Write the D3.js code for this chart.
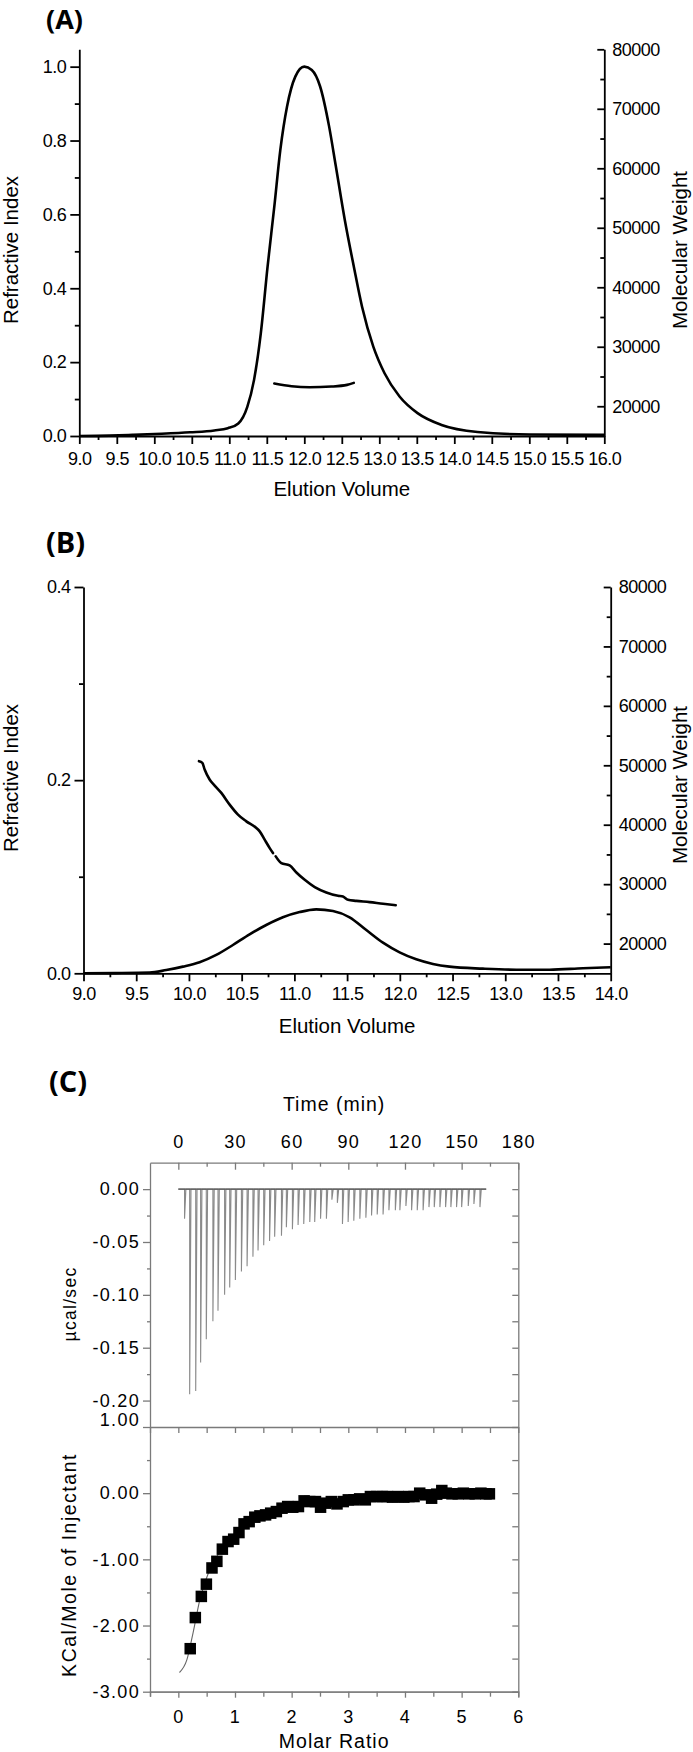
<!DOCTYPE html>
<html><head><meta charset="utf-8">
<script src="https://cdn.jsdelivr.net/npm/d3@7"></script>
<style>
body{margin:0;background:#fff}
svg{display:block;background:#fff}
</style></head><body>
<svg id="c" width="693" height="1752"></svg>
<script>
// ---------- Panel A ----------
const aVolume = [9.0, 9.4, 9.71, 10.1, 10.48, 10.8, 10.98, 11.12, 11.24, 11.33, 11.42, 11.51, 11.60, 11.68, 11.77, 11.88, 12.0, 12.1, 12.21, 12.33, 12.42, 12.54, 12.66, 12.77, 12.92, 13.07, 13.27, 13.51, 13.83, 14.31, 15.01, 16.0];
const aRI     = [0.0, 0.001, 0.003, 0.006, 0.010, 0.015, 0.021, 0.034, 0.079, 0.152, 0.278, 0.458, 0.621, 0.774, 0.892, 0.973, 1.0, 0.991, 0.947, 0.839, 0.731, 0.585, 0.459, 0.350, 0.242, 0.170, 0.107, 0.062, 0.030, 0.011, 0.004, 0.003];
const aMWVolume = [11.6, 11.83, 12.07, 12.36, 12.57, 12.66];
const aMW       = [23810, 23360, 23190, 23310, 23590, 23930];
const aXTicks = [9.0, 9.5, 10.0, 10.5, 11.0, 11.5, 12.0, 12.5, 13.0, 13.5, 14.0, 14.5, 15.0, 15.5, 16.0];
const aXMinor = [9.25, 9.75, 10.25, 10.75, 11.25, 11.75, 12.25, 12.75, 13.25, 13.75, 14.25, 14.75, 15.25, 15.75];
const aYTicks = [0.0, 0.2, 0.4, 0.6, 0.8, 1.0];
const aYMinor = [0.1, 0.3, 0.5, 0.7, 0.9];
const mwTicks = [20000, 30000, 40000, 50000, 60000, 70000, 80000];
const mwMinor = [25000, 35000, 45000, 55000, 65000, 75000];

// ---------- Panel B ----------
const bVolume = [9.0, 9.3, 9.627, 9.785, 9.943, 10.101, 10.259, 10.417, 10.575, 10.733, 10.891, 11.05, 11.208, 11.366, 11.524, 11.682, 11.84, 11.998, 12.156, 12.314, 12.471, 12.788, 13.104, 13.42, 13.736, 14.0];
const bRI     = [0.0, 0.0002, 0.0007, 0.0034, 0.0069, 0.0114, 0.019, 0.0293, 0.0403, 0.050, 0.058, 0.0634, 0.0662, 0.0645, 0.058, 0.0448, 0.0317, 0.0217, 0.0145, 0.0097, 0.0069, 0.0048, 0.0037, 0.0037, 0.0052, 0.0062];
const bMWVolume = [10.095, 10.127, 10.149, 10.196, 10.244, 10.307, 10.386, 10.465, 10.544, 10.639, 10.671, 10.718, 10.766, 10.797, 10.81, 10.823, 10.876, 10.955, 11.019, 11.098, 11.193, 11.303, 11.414, 11.461, 11.509, 11.588, 11.714, 11.841, 11.961];
const bMW       = [50690, 50410, 49280, 47600, 46590, 45350, 43380, 41700, 40570, 39450, 38880, 37480, 36070, 35230, null, 34670, 33540, 33150, 31970, 30730, 29500, 28600, 28040, 27920, 27360, 27190, 26970, 26690, 26460];
const bXTicks = [9.0, 9.5, 10.0, 10.5, 11.0, 11.5, 12.0, 12.5, 13.0, 13.5, 14.0];
const bXMinor = [9.25, 9.75, 10.25, 10.75, 11.25, 11.75, 12.25, 12.75, 13.25, 13.75];
const bYTicks = [0.0, 0.2, 0.4];
const bYMinor = [0.1, 0.3];

// ---------- Panel C ----------
const injTime  = [3.3, 6.0, 9.2, 11.8, 14.8, 18.3, 21.0, 24.5, 27.2, 30.2, 33.4, 36.4, 39.5, 42.2, 45.2, 48.3, 51.0, 54.6, 57.2, 60.4, 63.4, 66.4, 69.6, 72.2, 75.3, 78.4, 81.3, 84.2, 86.9, 89.9, 92.9, 96.1, 99.3, 102.3, 105.3, 108.4, 111.5, 114.9, 117.3, 120.5, 123.5, 126.5, 129.6, 132.7, 135.5, 138.5, 141.5, 144.3, 147.3, 150.0, 153.5, 156.5, 159.7];
const injPeak  = [-0.028, -0.194, -0.191, -0.164, -0.142, -0.125, -0.115, -0.100, -0.093, -0.086, -0.078, -0.073, -0.064, -0.058, -0.053, -0.049, -0.045, -0.044, -0.036, -0.038, -0.034, -0.033, -0.031, -0.031, -0.028, -0.028, -0.010, -0.013, -0.033, -0.031, -0.030, -0.028, -0.027, -0.025, -0.024, -0.024, -0.020, -0.020, -0.020, -0.016, -0.020, -0.020, -0.020, -0.017, -0.017, -0.017, -0.017, -0.017, -0.017, -0.017, -0.016, -0.014, -0.017];
const molarRatio = [0.21, 0.30, 0.406, 0.495, 0.594, 0.68, 0.777, 0.877, 0.977, 1.07, 1.16, 1.25, 1.35, 1.44, 1.54, 1.63, 1.73, 1.83, 1.93, 2.02, 2.12, 2.22, 2.32, 2.42, 2.51, 2.60, 2.70, 2.80, 2.91, 3.00, 3.10, 3.20, 3.30, 3.39, 3.50, 3.60, 3.69, 3.78, 3.88, 3.98, 4.07, 4.16, 4.26, 4.36, 4.47, 4.56, 4.65, 4.73, 4.83, 4.94, 5.03, 5.13, 5.24, 5.34, 5.43, 5.49];
const heat       = [-2.35, -1.88, -1.56, -1.375, -1.13, -1.03, -0.846, -0.731, -0.695, -0.595, -0.464, -0.43, -0.363, -0.343, -0.328, -0.302, -0.278, -0.227, -0.202, -0.212, -0.202, -0.116, -0.127, -0.127, -0.212, -0.151, -0.127, -0.162, -0.127, -0.101, -0.101, -0.086, -0.101, -0.051, -0.051, -0.051, -0.051, -0.06, -0.051, -0.06, -0.051, -0.051, 0.0, -0.025, -0.076, -0.015, 0.04, 0.0, -0.01, -0.01, 0.0, -0.01, -0.01, 0.0, -0.01, -0.01];
const fitRatio = [0.02, 0.15, 0.26, 0.38, 0.55, 0.75, 0.96, 1.2, 1.55, 2.15, 2.7, 3.3, 3.9, 4.5, 5.0, 5.55];
const fitHeat  = [-2.71, -2.52, -2.11, -1.61, -1.16, -0.87, -0.705, -0.5, -0.33, -0.17, -0.12, -0.08, -0.05, -0.03, -0.02, -0.01];
const timeTicks = [0, 30, 60, 90, 120, 150, 180];
const timeMinor = [15, 45, 75, 105, 135, 165];
const powerTicks = [0.00, -0.05, -0.10, -0.15, -0.20];
const powerMinor = [-0.025, -0.075, -0.125, -0.175];
const ratioTicks = [0, 1, 2, 3, 4, 5, 6];
const ratioMinor = [-0.5, 0.5, 1.5, 2.5, 3.5, 4.5, 5.5];
const heatTicks = [1, 0, -1, -2, -3];
const heatMinor = [0.5, -0.5, -1.5, -2.5];

// ---------- drawing ----------
const svg = d3.select('#c');
const FONT = "'Liberation Sans', Arial, Helvetica, sans-serif";
const LABEL_FONT = "'Open Sans', 'DejaVu Sans', sans-serif";

function finish(g, color, sw, size, ls) {
  g.attr('font-family', FONT).attr('font-size', size);
  g.select('.domain').attr('stroke', color).attr('stroke-width', sw);
  g.selectAll('.tick line').attr('stroke', color).attr('stroke-width', sw);
  g.selectAll('.tick text').attr('fill', '#000').style('letter-spacing', ls + 'px');
  return g;
}
function minor(g) { g.select('.domain').remove(); return g; }

function elutionPanel(cfg) {
  const x = d3.scaleLinear().domain(cfg.xDomain).range(cfg.xRange);
  const y = d3.scaleLinear().domain(cfg.yDomain).range(cfg.yRange);
  const y2 = d3.scaleLinear().domain([15000, 80000]).range(cfg.yRange);
  const g = svg.append('g');
  const base = cfg.yRange[0], left = cfg.xRange[0], right = cfg.xRange[1];
  const f1 = d => d.toFixed(1);

  finish(minor(g.append('g').attr('transform', `translate(0,${base})`)
    .call(d3.axisBottom(x).tickValues(cfg.xMinor).tickSize(4).tickFormat(''))), '#000', 1.8, 18, 0);
  finish(g.append('g').attr('transform', `translate(0,${base})`)
    .call(d3.axisBottom(x).tickValues(cfg.xTicks).tickFormat(f1).tickSize(8).tickSizeOuter(0).tickPadding(cfg.xPad)), '#000', 1.8, 18, -0.5);

  finish(minor(g.append('g').attr('transform', `translate(${left},0)`)
    .call(d3.axisLeft(y).tickValues(cfg.yMinor).tickSize(4.5).tickFormat(''))), '#000', 1.8, 18, 0);
  finish(g.append('g').attr('transform', `translate(${left},0)`)
    .call(d3.axisLeft(y).tickValues(cfg.yTicks).tickFormat(f1).tickSize(9).tickSizeOuter(0).tickPadding(4)), '#000', 1.8, 18, -0.5);

  finish(minor(g.append('g').attr('transform', `translate(${right},0)`)
    .call(d3.axisRight(y2).tickValues(mwMinor).tickSize(-4).tickFormat(''))), '#000', 1.8, 18, 0);
  finish(g.append('g').attr('transform', `translate(${right},0)`)
    .call(d3.axisRight(y2).tickValues(mwTicks).tickFormat(d => String(d)).tickSize(-7).tickSizeOuter(0).tickPadding(8)), '#000', 1.8, 18, -0.5);

  const ri = d3.line().x(d => x(d[0])).y(d => y(d[1])).curve(d3.curveMonotoneX);
  g.append('path').datum(d3.zip(cfg.vol, cfg.ri)).attr('d', ri)
    .attr('fill', 'none').attr('stroke', '#000').attr('stroke-width', 2.6).attr('stroke-linejoin', 'round');
  const mw = d3.line().defined(d => d[1] != null).x(d => x(d[0])).y(d => y2(d[1])).curve(d3.curveMonotoneX);
  g.append('path').datum(d3.zip(cfg.mwVol, cfg.mw)).attr('d', mw)
    .attr('fill', 'none').attr('stroke', '#000').attr('stroke-width', 2.6).attr('stroke-linecap', 'round');

  g.append('text').attr('x', (left + right) / 2).attr('y', cfg.titleY).attr('text-anchor', 'middle')
    .attr('font-family', FONT).attr('font-size', 20.5).text('Elution Volume');
  g.append('text').attr('transform', `translate(17.5,${cfg.riY}) rotate(-90)`).attr('text-anchor', 'middle')
    .attr('font-family', FONT).attr('font-size', 20.5).text('Refractive Index');
  g.append('text').attr('transform', `translate(687,${cfg.mwY}) rotate(-90)`).attr('text-anchor', 'middle')
    .attr('font-family', FONT).attr('font-size', 20.5).text('Molecular Weight');
  g.append('text').attr('x', 46).attr('y', cfg.labelY).attr('font-family', LABEL_FONT)
    .attr('font-weight', 700).attr('font-size', cfg.labelSize).text(cfg.label);
}

elutionPanel({
  xDomain: [9, 16], xRange: [79.3, 604.3], yDomain: [0, 1.047], yRange: [436, 49.3],
  xTicks: aXTicks, xMinor: aXMinor, yTicks: aYTicks, yMinor: aYMinor, xPad: 8.6,
  vol: aVolume, ri: aRI, mwVol: aMWVolume, mw: aMW,
  titleY: 495.7, riY: 250, mwY: 250, labelY: 29, labelSize: 27, label: '(A)'
});
elutionPanel({
  xDomain: [9, 14], xRange: [83.5, 610.7], yDomain: [0, 0.4], yRange: [973.3, 587],
  xTicks: bXTicks, xMinor: bXMinor, yTicks: bYTicks, yMinor: bYMinor, xPad: 5.7,
  vol: bVolume, ri: bRI, mwVol: bMWVolume, mw: bMW,
  titleY: 1033.4, riY: 778, mwY: 785, labelY: 553, labelSize: 29, label: '(B)'
});

// ---------- Panel C ----------
(function () {
  const L = 150, R = 518.3, T = 1162.7, M = 1427, B = 1691.7;
  const GRAY = '#7a7a7a';
  const xT = d3.scaleLinear().domain([-15, 180]).range([L, R]);
  const xM = d3.scaleLinear().domain([-0.5, 6]).range([L, R]);
  const yP = d3.scaleLinear().domain([-0.225, 0.025]).range([M, T]);
  const yH = d3.scaleLinear().domain([-3, 1]).range([B, M]);
  const g = svg.append('g');
  const f2 = d => d.toFixed(2);
  const fi = d => String(d);
  const CS = 18, LS = 1.3;

  // upper panel axes
  finish(minor(g.append('g').attr('transform', `translate(0,${T})`)
    .call(d3.axisTop(xT).tickValues(timeMinor).tickSize(-4).tickFormat(''))), GRAY, 1.3, CS, 0);
  finish(g.append('g').attr('transform', `translate(0,${T})`)
    .call(d3.axisTop(xT).tickValues(timeTicks).tickFormat(fi).tickSize(-7).tickSizeOuter(0).tickPadding(14.5)), GRAY, 1.3, CS, LS);
  finish(minor(g.append('g').attr('transform', `translate(${L},0)`)
    .call(d3.axisLeft(yP).tickValues(powerMinor).tickSize(3).tickFormat(''))), GRAY, 1.3, CS, 0);
  finish(g.append('g').attr('transform', `translate(${L},0)`)
    .call(d3.axisLeft(yP).tickValues(powerTicks).tickFormat(f2).tickSize(7).tickSizeOuter(0).tickPadding(3)), GRAY, 1.3, CS, LS);
  finish(g.append('g').attr('transform', `translate(${R},0)`)
    .call(d3.axisRight(yP).tickValues(powerTicks.concat(powerMinor)).tickSize(-6).tickSizeOuter(0).tickFormat('')), GRAY, 1.3, CS, 0);

  // lower panel axes
  finish(g.append('g').attr('transform', `translate(0,${M})`)
    .call(d3.axisTop(xM).tickValues(ratioTicks.concat(ratioMinor)).tickSize(-6).tickSizeOuter(0).tickFormat('')), GRAY, 1.3, CS, 0);
  finish(g.append('g').attr('transform', `translate(0,${B})`)
    .call(d3.axisBottom(xM).tickValues(ratioMinor).tickSize(5).tickFormat('')), GRAY, 1.3, CS, 0);
  finish(g.append('g').attr('transform', `translate(0,${B})`)
    .call(d3.axisBottom(xM).tickValues(ratioTicks).tickFormat(fi).tickSize(6).tickSizeOuter(0).tickPadding(12.3)), GRAY, 1.3, CS, LS);
  finish(minor(g.append('g').attr('transform', `translate(${L},0)`)
    .call(d3.axisLeft(yH).tickValues(heatMinor).tickSize(3).tickFormat(''))), GRAY, 1.3, CS, 0);
  const hl = finish(g.append('g').attr('transform', `translate(${L},0)`)
    .call(d3.axisLeft(yH).tickValues(heatTicks).tickFormat(f2).tickSize(7).tickSizeOuter(0).tickPadding(3)), GRAY, 1.3, CS, LS);
  hl.selectAll('.tick').filter(d => d === 1).select('text').attr('y', -7.5);
  finish(g.append('g').attr('transform', `translate(${R},0)`)
    .call(d3.axisRight(yH).tickValues(heatTicks.concat(heatMinor)).tickSize(-6).tickSizeOuter(0).tickFormat('')), GRAY, 1.3, CS, 0);

  // thermogram
  const trace = [[0, 0]];
  injTime.forEach((t, i) => { trace.push([t, 0], [t, injPeak[i]], [t + 0.7, 0]); });
  trace.push([163, 0]);
  g.append('path').datum(trace)
    .attr('d', d3.line().x(d => xT(d[0])).y(d => yP(d[1])))
    .attr('fill', 'none').attr('stroke', '#8a8a8a').attr('stroke-width', 1.1);
  g.append('line').attr('x1', xT(0)).attr('x2', xT(163)).attr('y1', yP(0)).attr('y2', yP(0))
    .attr('stroke', '#555').attr('stroke-width', 1.2);

  // fit + points
  g.append('path').datum(d3.zip(fitRatio, fitHeat))
    .attr('d', d3.line().x(d => xM(d[0])).y(d => yH(d[1])).curve(d3.curveMonotoneX))
    .attr('fill', 'none').attr('stroke', '#666').attr('stroke-width', 1.1);
  const S = 11.5;
  g.selectAll('rect.pt').data(d3.zip(molarRatio, heat)).join('rect').attr('class', 'pt')
    .attr('x', d => xM(d[0]) - S / 2).attr('y', d => yH(d[1]) - S / 2)
    .attr('width', S).attr('height', S).attr('fill', '#000');

  // texts
  g.append('text').attr('x', (L + R) / 2).attr('y', 1110.5).attr('text-anchor', 'middle')
    .attr('font-family', FONT).attr('font-size', 19.5).style('letter-spacing', '1px').text('Time (min)');
  g.append('text').attr('x', (L + R) / 2).attr('y', 1748).attr('text-anchor', 'middle')
    .attr('font-family', FONT).attr('font-size', 19.5).style('letter-spacing', '1px').text('Molar Ratio');
  g.append('text').attr('transform', `translate(76,1304) rotate(-90)`).attr('text-anchor', 'middle')
    .attr('font-family', FONT).attr('font-size', 17.5).style('letter-spacing', '1.3px').text('µcal/sec');
  g.append('text').attr('transform', `translate(76,1565) rotate(-90)`).attr('text-anchor', 'middle')
    .attr('font-family', FONT).attr('font-size', 19.5).style('letter-spacing', '1.5px').text('KCal/Mole of Injectant');
  g.append('text').attr('x', 49).attr('y', 1092).attr('font-family', LABEL_FONT)
    .attr('font-weight', 700).attr('font-size', 29).text('(C)');
})();
</script>
</body></html>
